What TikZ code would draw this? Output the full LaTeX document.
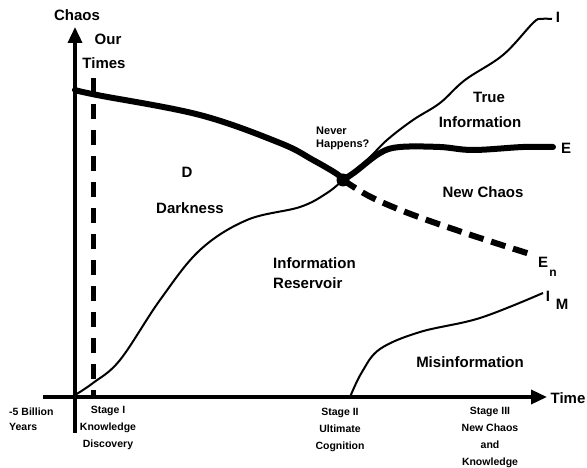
\documentclass[tikz,border=0pt]{standalone}
\usepackage{fontspec}
\setmainfont{Liberation Sans}
\usetikzlibrary{arrows.meta}
\tikzset{
  big/.style={font=\fontsize{15}{20}\selectfont\bfseries, inner sep=0pt, align=center},
  bigl/.style={font=\fontsize{15}{20}\selectfont\bfseries, inner sep=0pt, align=left},
  small/.style={font=\fontsize{10.5}{17}\selectfont\bfseries, inner sep=0pt, align=center},
  thickc/.style={line width=6pt, line cap=round},
  thinc/.style={line width=2pt},
  axisline/.style={line width=3.5pt, -{Triangle[length=16pt,width=14pt]}},
}
\begin{document}
\begin{tikzpicture}[x=1pt,y=-1pt]
\useasboundingbox (0,0) rectangle (587,468);
% axes
\coordinate (ybot) at (75,433);
\coordinate (ytop) at (75,27);
\coordinate (xl) at (43,397);
\coordinate (xr) at (547,397);
\draw[axisline] (ybot) -- (ytop);
\draw[axisline] (xl) -- (xr);
% our times dashed
\coordinate (ot1) at (93,78);
\coordinate (ot2) at (93,397);
\draw[line width=5pt, dash pattern=on 15pt off 11pt] (ot1) -- (ot2);
% dot
\node[circle, fill, minimum size=13pt, inner sep=0pt] (dot) at (343,180) {};
% darkness upper boundary
\draw[thickc] plot[smooth, tension=0.6] coordinates {(75,90) (97,95) (200,115) (280,143) (313,160) (337,174) (343,180)};
% lower thin curve
\draw[thinc] plot[smooth, tension=0.6] coordinates {(75,395) (93,383) (120,360) (160,300) (200,250) (247,220) (300,207) (327,193) (343,180)};
% I curve
\draw[thinc] plot[smooth, tension=0.6] coordinates {(343,180) (367,160) (387,140) (413,120) (440,103) (465,80) (503,55) (533,23) (541,19) (552,19)};
% E curve
\draw[thickc] plot[smooth, tension=0.6] coordinates {(343,180) (355,172) (380,153) (400,147) (440,147) (473,150) (523,147) (553,147)};
% En dashed
\draw[line width=6pt, dash pattern=on 15pt off 8pt] plot[smooth, tension=0.6] coordinates {(343,180) (367,195) (393,207) (427,220) (480,238) (530,254)};
% I_M curve
\draw[thinc] plot[smooth, tension=0.6] coordinates {(350,397) (362,372) (380,349) (420,332) (480,318) (543,293)};
% labels
\node[big] (chaos) at (77,15) {Chaos};
\node[big] (our) at (108,39) {Our};
\node[big] (times) at (104,63) {Times};
\node[big] (d) at (187,172) {D};
\node[big] (dark) at (190,208) {Darkness};
\node[font=\fontsize{11}{13}\selectfont\bfseries, inner sep=0pt, align=left, anchor=west] (never) at (316,138) {Never\\Happens?};
\node[big] (true) at (489,97) {True};
\node[big] (trueinfo) at (480,122) {Information};
\node[big] (elab) at (566,148) {E};
\node[big] (ilab) at (558,17) {I};
\node[big] (newchaos) at (483,192) {New Chaos};
\node[bigl, anchor=west] (inforeserv) at (273,273) {Information\\Reservoir};
\node[big] (en) at (543,262) {E};
\node[font=\fontsize{12}{14}\selectfont\bfseries, inner sep=0pt] (ensub) at (553,273) {n};
\node[big] (im) at (548,296) {I};
\node[big] (imsub) at (562,304) {M};
\node[big] (misinfo) at (470,362) {Misinformation};
\node[big] (time) at (568,398) {Time};
\node[small, align=left, anchor=west, font=\fontsize{10.5}{14.5}\selectfont\bfseries] (bill) at (9,419) {-5 Billion\\Years};
\node[small, anchor=north] (s1) at (108,406) {Stage I\\Knowledge\\Discovery};
\node[small, anchor=north] (s2) at (340,408) {Stage II\\Ultimate\\Cognition};
\node[small, anchor=north] (s3) at (490,407) {Stage III\\New Chaos\\and\\Knowledge};
\end{tikzpicture}
\end{document}
